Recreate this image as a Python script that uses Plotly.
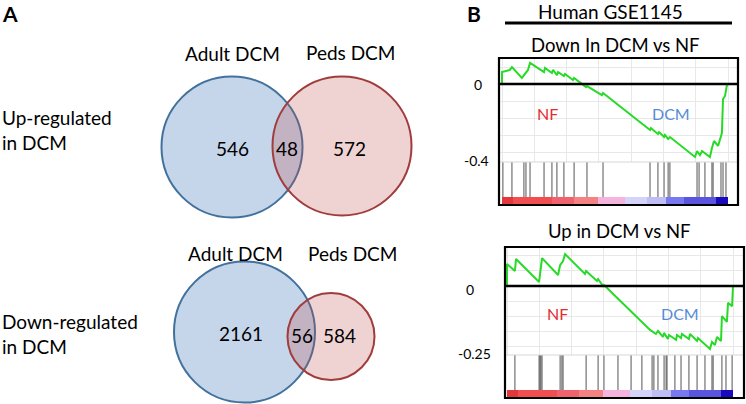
import plotly.graph_objects as go

# ---------------- DATA ----------------
# Panel A: Venn counts
venn_up = {"adult_only": 546, "shared": 48, "peds_only": 572}
venn_down = {"adult_only": 2161, "shared": 56, "peds_only": 584}
set_labels = ["Adult DCM", "Peds DCM"]
row_labels = ["Up-regulated<br>in DCM", "Down-regulated<br>in DCM"]

# Panel B: GSEA running enrichment score (x = gene rank position, % of list)
down_rank = [0, 0, 3.5, 4.4, 8.8, 9.7, 10.6, 11.5, 12.4, 18.6, 19.0, 22.1, 22.6, 24.3, 24.8,
             27.4, 27.9, 31.4, 31.9, 37.2, 37.6, 44.2, 44.7, 65.5, 65.9, 69.0, 69.5, 71.7,
             72.1, 73.5, 74.3, 85.4, 86.3, 87.6, 88.5, 92.0, 92.9, 93.8, 95.6, 96.5, 97.3,
             97.8, 98.7, 99.6]
down_es = [0.0, 0.063, 0.074, 0.089, 0.032, 0.047, 0.058, 0.074, 0.111, 0.063, 0.084, 0.058,
           0.074, 0.047, 0.063, 0.042, 0.053, 0.021, 0.032, -0.016, -0.011, -0.058, -0.047,
           -0.242, -0.232, -0.263, -0.253, -0.279, -0.268, -0.289, -0.279, -0.384, -0.353,
           -0.374, -0.353, -0.384, -0.337, -0.300, -0.326, -0.289, -0.258, -0.079, -0.063, 0.0]
down_hits = [0.4, 4.4, 9.7, 10.6, 12.4, 18.6, 22.1, 24.3, 27.4, 31.9, 37.6, 44.7, 65.5, 69.0,
             71.7, 73.5, 74.3, 86.3, 87.2, 89.8, 92.9, 93.4, 96.9, 97.8, 99.1]

up_rank = [0, 0, 3.5, 4.0, 14.2, 14.6, 15.5, 22.6, 23.5, 24.8, 25.7, 34.5, 35.0, 39.8, 40.3,
           42.5, 42.9, 63.3, 65.9, 66.8, 69.0, 69.5, 71.2, 71.7, 74.8, 75.2, 77.0, 77.4, 80.5,
           81.0, 84.1, 84.5, 89.8, 90.7, 92.0, 92.9, 94.7, 95.1, 97.3, 97.8, 99.6, 100.0]
up_es = [0.0, 0.082, 0.056, 0.101, 0.015, 0.052, 0.104, 0.041, 0.078, 0.093, 0.119, 0.045,
         0.056, 0.019, 0.026, 0.0, 0.004, -0.164, -0.179, -0.168, -0.190, -0.175, -0.198,
         -0.183, -0.201, -0.183, -0.194, -0.179, -0.198, -0.179, -0.205, -0.194, -0.235,
         -0.209, -0.220, -0.190, -0.205, -0.112, -0.134, -0.063, -0.075, 0.0]
up_hits = [3.5, 14.2, 14.6, 15.0, 15.5, 23.5, 24.3, 24.8, 35.0, 40.3, 42.9, 49.1, 54.9, 59.7,
           64.2, 65.0, 66.8, 69.5, 70.4, 70.8, 74.3, 77.0, 80.5, 84.1, 87.6, 90.7, 91.2, 95.1,
           96.9, 99.6]

# ranked-list metric bands (colour bar under each GSEA plot)
band_edges = [0, 5, 22, 32, 42.5, 54.5, 64, 72.6, 80.5, 94.5, 100]
band_metric = [0.95, 0.8, 0.6, 0.4, 0.15, -0.1, -0.3, -0.5, -0.75, -0.95]

# ---------------- HELPERS ----------------
W, H = 746, 404
def P(x):
    return x / W
def Q(y):
    return 1 - y / H

band_colors = ["rgb(25,10,190)", "rgb(90,85,225)", "rgb(120,120,240)", "rgb(190,190,245)",
               "rgb(212,212,250)", "rgb(245,180,222)", "rgb(245,130,130)", "rgb(240,98,110)",
               "rgb(240,78,80)", "rgb(228,55,60)"]
levels_sorted = sorted(band_metric)
colorscale = [[(v + 1) / 2, c] for v, c in zip(levels_sorted, band_colors)]
colorscale = [[0, band_colors[0]]] + colorscale + [[1, band_colors[-1]]]

GREEN = "rgb(40,218,40)"
FONT = "Lato"

fig = go.Figure()

def hit_xy(hits):
    xs, ys = [], []
    for h in hits:
        xs += [h, h, None]
        ys += [0, 1, None]
    return xs, ys

plots = [
    dict(rank=down_rank, es=down_es, hits=down_hits, l=499, t=58, r=738, b=205, zero=84,
         tk=162, cb=197, x0=502, ppx=2.26, ppy=190, gdy=0.0895),
    dict(rank=up_rank, es=up_es, hits=up_hits, l=505, t=247, r=744, b=398, zero=286,
         tk=355, cb=390, x0=507, ppx=2.26, ppy=268, gdy=0.056),
]

shapes = []
annotations = []
axis_idx = 1
for p in plots:
    xr = [(p["l"] - p["x0"]) / p["ppx"], (p["r"] - p["x0"]) / p["ppx"]]
    dom_x = [P(p["l"]), P(p["r"])]
    ia, ib, ic = axis_idx, axis_idx + 1, axis_idx + 2
    na = "" if ia == 1 else str(ia)
    fig.add_trace(go.Scatter(x=p["rank"], y=p["es"], mode="lines",
                             line=dict(color=GREEN, width=2), xaxis="x" + na, yaxis="y" + na,
                             showlegend=False, hoverinfo="skip"))
    hx, hy = hit_xy(p["hits"])
    fig.add_trace(go.Scatter(x=hx, y=hy, mode="lines",
                             line=dict(color="rgb(85,85,85)", width=1),
                             xaxis="x" + str(ib), yaxis="y" + str(ib),
                             showlegend=False, hoverinfo="skip"))
    fig.add_trace(go.Heatmap(x=band_edges, y=[0, 1], z=[band_metric], zmin=-1, zmax=1,
                             colorscale=colorscale, showscale=False,
                             xaxis="x" + str(ic), yaxis="y" + str(ic), hoverinfo="skip"))
    yr = [(p["zero"] - p["tk"]) / p["ppy"], (p["zero"] - p["t"]) / p["ppy"]]
    common_x = dict(range=xr, showticklabels=False, zeroline=False, showline=False,
                    ticks="", fixedrange=True)
    fig.layout["xaxis" + na] = dict(domain=dom_x, anchor="y" + na, showgrid=True,
                                    gridcolor="rgb(232,232,232)", gridwidth=1,
                                    tick0=0, dtick=100 / 7, **common_x)
    fig.layout["yaxis" + na] = dict(domain=[Q(p["tk"]), Q(p["t"])], anchor="x" + na,
                                    range=yr, showgrid=True, gridcolor="rgb(232,232,232)",
                                    tick0=0, dtick=p["gdy"], showticklabels=False,
                                    zeroline=False, ticks="", fixedrange=True)
    fig.layout["xaxis" + str(ib)] = dict(domain=dom_x, anchor="y" + str(ib), showgrid=False,
                                         **common_x)
    fig.layout["yaxis" + str(ib)] = dict(domain=[Q(p["cb"]), Q(p["tk"])], anchor="x" + str(ib),
                                         range=[0, 1], showgrid=False, showticklabels=False,
                                         zeroline=False, ticks="", fixedrange=True)
    fig.layout["xaxis" + str(ic)] = dict(domain=dom_x, anchor="y" + str(ic), showgrid=False,
                                         **common_x)
    fig.layout["yaxis" + str(ic)] = dict(domain=[Q(p["b"]), Q(p["cb"])], anchor="x" + str(ic),
                                         range=[0, 1], showgrid=False, showticklabels=False,
                                         zeroline=False, ticks="", fixedrange=True)
    shapes.append(dict(type="line", xref="paper", yref="y" + na, x0=P(p["l"]), x1=P(p["r"]),
                       y0=0, y1=0, line=dict(color="black", width=2.5), layer="above"))
    shapes.append(dict(type="line", xref="paper", yref="paper", x0=P(p["l"]), x1=P(p["r"]),
                       y0=Q(p["tk"]), y1=Q(p["tk"]), line=dict(color="rgb(215,215,215)", width=1)))
    shapes.append(dict(type="rect", xref="paper", yref="paper", x0=P(p["l"]), x1=P(p["r"]),
                       y0=Q(p["b"]), y1=Q(p["t"]), line=dict(color="black", width=2.2),
                       layer="above"))
    axis_idx += 3

def ann(text, x, y, size=19, color="black", bold=False, xanchor="center"):
    annotations.append(dict(text=("<b>%s</b>" % text) if bold else text, x=P(x), y=Q(y),
                            xref="paper", yref="paper", showarrow=False, xanchor=xanchor,
                            yanchor="middle", font=dict(family=FONT, size=size, color=color)))

ann("B", 465, 13, size=21, bold=True, xanchor="left")
ann("Human GSE1145", 610, 11, size=19)
shapes.append(dict(type="line", xref="paper", yref="paper", x0=P(505), x1=P(732),
                   y0=Q(23), y1=Q(23), line=dict(color="black", width=3)))
ann("Down In DCM vs NF", 615, 45, size=18.5)
ann("Up in DCM vs NF", 619, 231, size=18.5)
ann("0", 478, 85, size=14)
ann("-0.4", 476, 160, size=14)
ann("0", 470, 289, size=14)
ann("-0.25", 474, 353, size=14)
RED_T = "rgb(228,45,50)"
BLUE_T = "rgb(85,140,215)"
ann("NF", 547, 113, size=16, color=RED_T)
ann("DCM", 671, 113, size=16, color=BLUE_T)
ann("NF", 557, 313, size=16, color=RED_T)
ann("DCM", 680, 313, size=16, color=BLUE_T)

BLUE_FILL = "rgb(197,213,234)"
BLUE_EDGE = "rgb(65,113,156)"
RED_FILL = "rgba(192,80,77,0.25)"
RED_EDGE = "rgb(160,60,60)"

def circle(cx, cy, r, fill, edge):
    shapes.append(dict(type="circle", xref="paper", yref="paper",
                       x0=P(cx - r), x1=P(cx + r), y0=Q(cy + r), y1=Q(cy - r),
                       fillcolor=fill, line=dict(color=edge, width=2), layer="below"))

ann("A", 0, 13, size=21, bold=True, xanchor="left")

circle(232, 147, 70.5, BLUE_FILL, BLUE_EDGE)
circle(342, 146, 69.5, RED_FILL, RED_EDGE)
ann(set_labels[0], 232, 53)
ann(set_labels[1], 350, 52)
ann(str(venn_up["adult_only"]), 232, 148)
ann(str(venn_up["shared"]), 287, 148)
ann(str(venn_up["peds_only"]), 349, 148)
annotations.append(dict(text=row_labels[0], x=0, y=Q(130), xref="paper", yref="paper",
                        showarrow=False, xanchor="left", yanchor="middle", align="left",
                        font=dict(family=FONT, size=19, color="black")))

circle(244.5, 332, 70.5, BLUE_FILL, BLUE_EDGE)
circle(331, 336.5, 43.5, RED_FILL, RED_EDGE)
ann(set_labels[0], 235, 253)
ann(set_labels[1], 352, 253)
ann(str(venn_down["adult_only"]), 241, 333)
ann(str(venn_down["shared"]), 302, 335)
ann(str(venn_down["peds_only"]), 339, 335)
annotations.append(dict(text=row_labels[1], x=0, y=Q(334), xref="paper", yref="paper",
                        showarrow=False, xanchor="left", yanchor="middle", align="left",
                        font=dict(family=FONT, size=19, color="black")))

fig.update_layout(width=W, height=H, margin=dict(l=0, r=0, t=0, b=0),
                  paper_bgcolor="white", plot_bgcolor="rgba(0,0,0,0)",
                  shapes=shapes, annotations=annotations, showlegend=False,
                  font=dict(family=FONT))
fig.write_html("out.html", config={"displayModeBar": False},
               post_script="document.body.style.margin='0px';document.body.style.overflow='hidden';")
